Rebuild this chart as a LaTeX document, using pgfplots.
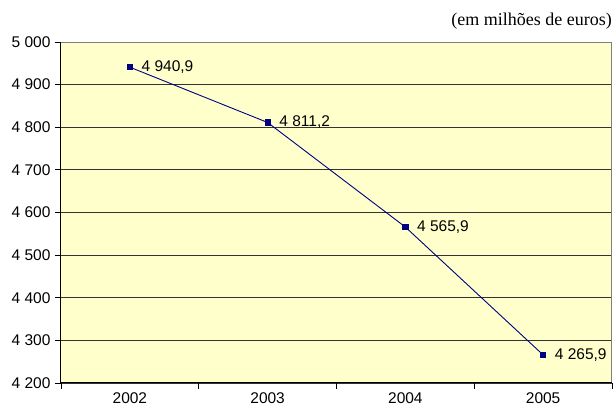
\documentclass[border=0pt]{standalone}
\usepackage{pgfplots}
\pgfplotsset{compat=1.18}
\usepackage{fontspec}
\setmainfont{Liberation Sans}
\newfontfamily\titlefont{Liberation Serif}
\definecolor{bgyellow}{HTML}{FFFFCC}
\definecolor{navyline}{HTML}{000080}
\begin{document}
\begin{tikzpicture}
\begin{axis}[
  scale only axis,
  width=551pt, height=341pt,
  xmin=-0.5, xmax=3.5,
  ymin=4200, ymax=5000,
  ytick={4200,4300,...,5000},
  xtick={-0.5,0.5,1.5,2.5,3.5},
  xticklabels={},
  extra x ticks={0,1,2,3},
  extra x tick labels={2002,2003,2004,2005},
  extra x tick style={major tick length=0pt, xticklabel style={yshift=-6pt}},
  tick style={black, line width=0.9pt},
  major tick length=6pt,
  tick align=outside,
  xtick pos=bottom, ytick pos=left,
  ymajorgrids,
  grid style={black!80, line width=0.9pt},
  axis background/.style={fill=bgyellow},
  axis line style={draw=gray, line width=1pt},
  /pgf/number format/assume math mode=true,
  /pgf/number format/1000 sep={\ },
  tick label style={font=\fontsize{15.5}{18}\selectfont},
  yticklabel style={xshift=-1pt},
  clip=false,
]
\addplot[color=navyline, line width=0.9pt, mark=square*, mark size=2.6pt,
  mark options={solid, fill=navyline},
  nodes near coords, point meta=explicit symbolic,
  every node near coord/.append style={anchor=west, xshift=8pt, font=\fontsize{15.5}{18}\selectfont, text=black}]
  table[meta=label] {
x y label
0 4940.9 {4\ 940,9}
1 4811.2 {4\ 811,2}
2 4565.9 {4\ 565,9}
3 4265.9 {4\ 265,9}
};
\draw[black, line width=1pt] (rel axis cs:0,1) -- (rel axis cs:0,0) -- (rel axis cs:1,0);
\node[anchor=base east, font=\titlefont\fontsize{18}{21}\selectfont, inner sep=0pt] at ([yshift=17pt]rel axis cs:1,1) {(em milhões de euros)};
\end{axis}
\pgfresetboundingbox
\path ([shift={(-61pt,-29pt)}]current axis.south west) rectangle ++(616pt,412pt);
\end{tikzpicture}
\end{document}
